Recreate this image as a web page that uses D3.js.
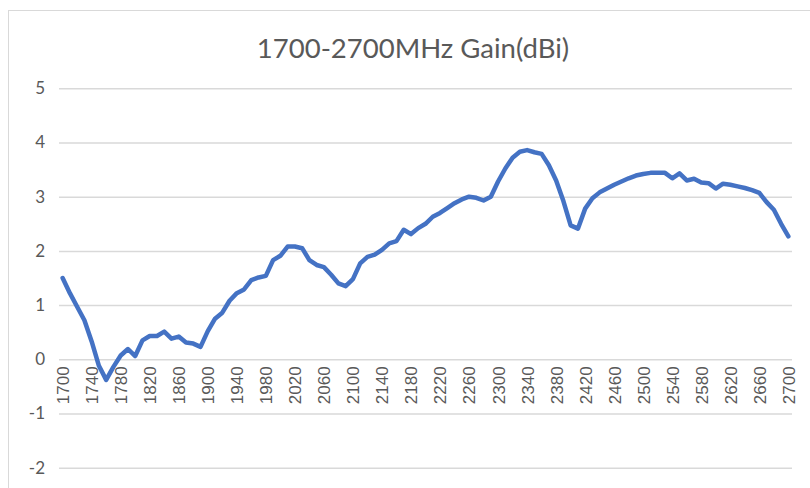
<!DOCTYPE html>
<html>
<head>
<meta charset="utf-8">
<script src="https://cdn.jsdelivr.net/npm/d3@7/dist/d3.min.js"></script>
<style>
  html, body { margin: 0; padding: 0; background: #fff; }
  svg { display: block; }
</style>
</head>
<body>
<svg id="chart" width="810" height="488"></svg>
<script>
const title = "1700-2700MHz Gain(dBi)";
const frequencies = d3.range(1700, 2701, 10);
const gain = [
  1.50, 1.22, 0.97, 0.72, 0.33, -0.12, -0.38, -0.14, 0.07, 0.19,
  0.06, 0.35, 0.43, 0.43, 0.51, 0.38, 0.42, 0.31, 0.29, 0.23,
  0.52, 0.75, 0.86, 1.08, 1.22, 1.29, 1.46, 1.51, 1.54, 1.83,
  1.91, 2.08, 2.08, 2.05, 1.83, 1.74, 1.70, 1.56, 1.40, 1.35,
  1.48, 1.77, 1.89, 1.93, 2.02, 2.14, 2.18, 2.39, 2.31, 2.42,
  2.50, 2.63, 2.70, 2.79, 2.88, 2.95, 3.00, 2.98, 2.93, 3.00,
  3.28, 3.52, 3.72, 3.83, 3.86, 3.82, 3.79, 3.58, 3.30, 2.92,
  2.47, 2.41, 2.78, 2.97, 3.08, 3.15, 3.22, 3.28, 3.34, 3.39,
  3.42, 3.44, 3.44, 3.44, 3.34, 3.43, 3.30, 3.33, 3.26, 3.25,
  3.15, 3.24, 3.22, 3.19, 3.16, 3.12, 3.07, 2.90, 2.76, 2.50,
  2.27
];
const xTickLabels = [1700,1740,1780,1820,1860,1900,1940,1980,2020,2060,2100,2140,2180,2220,2260,2300,2340,2380,2420,2460,2500,2540,2580,2620,2660,2700];
const yTicks = [-2, -1, 0, 1, 2, 3, 4, 5];

const svg = d3.select("#chart");
const textColor = "#595959";

// chart border
svg.append("rect")
  .attr("x", 8.5).attr("y", 10.5)
  .attr("width", 830).attr("height", 500)
  .attr("fill", "none").attr("stroke", "#d9d9d9").attr("stroke-width", 1);

const x = d3.scalePoint().domain(frequencies).range([59, 792]).padding(0.5);
const y = d3.scaleLinear().domain([-2, 5]).range([467.7, 88.3]);

// gridlines + y labels
const yAxis = d3.axisLeft(y).tickValues(yTicks).tickSize(-(792 - 59)).tickPadding(14).tickFormat(d => String(d));
const gy = svg.append("g").attr("transform", "translate(59,0)").call(yAxis);
gy.select(".domain").remove();
gy.selectAll(".tick line").attr("stroke", "#d9d9d9").attr("stroke-width", 1.5);
gy.selectAll(".tick text")
  .attr("fill", textColor)
  .style("font-family", "Lato, 'Open Sans', sans-serif")
  .style("font-size", "17px");

// x axis labels at zero line
const xAxis = d3.axisBottom(x).tickValues(xTickLabels).tickSize(0).tickPadding(0);
const gx = svg.append("g").attr("transform", `translate(0,${y(0)})`).call(xAxis);
gx.select(".domain").remove();
gx.selectAll(".tick text")
  .attr("fill", textColor)
  .attr("transform", "rotate(-90)")
  .attr("text-anchor", "end")
  .attr("x", -7)
  .attr("y", 0)
  .attr("dy", "0.35em")
  .style("font-family", "'Liberation Sans', Arial, sans-serif")
  .style("font-size", "17px");

// line
const line = d3.line()
  .x((d, i) => x(frequencies[i]))
  .y(d => y(d));
svg.append("path")
  .datum(gain)
  .attr("d", line)
  .attr("fill", "none")
  .attr("stroke", "#4472C4")
  .attr("stroke-width", 4.5)
  .attr("stroke-linejoin", "round")
  .attr("stroke-linecap", "round");

// title
svg.append("text")
  .attr("x", 413).attr("y", 58)
  .attr("text-anchor", "middle")
  .attr("fill", textColor)
  .style("font-family", "Lato, 'Open Sans', sans-serif")
  .style("font-size", "27.5px")
  .text(title);
</script>
</body>
</html>
